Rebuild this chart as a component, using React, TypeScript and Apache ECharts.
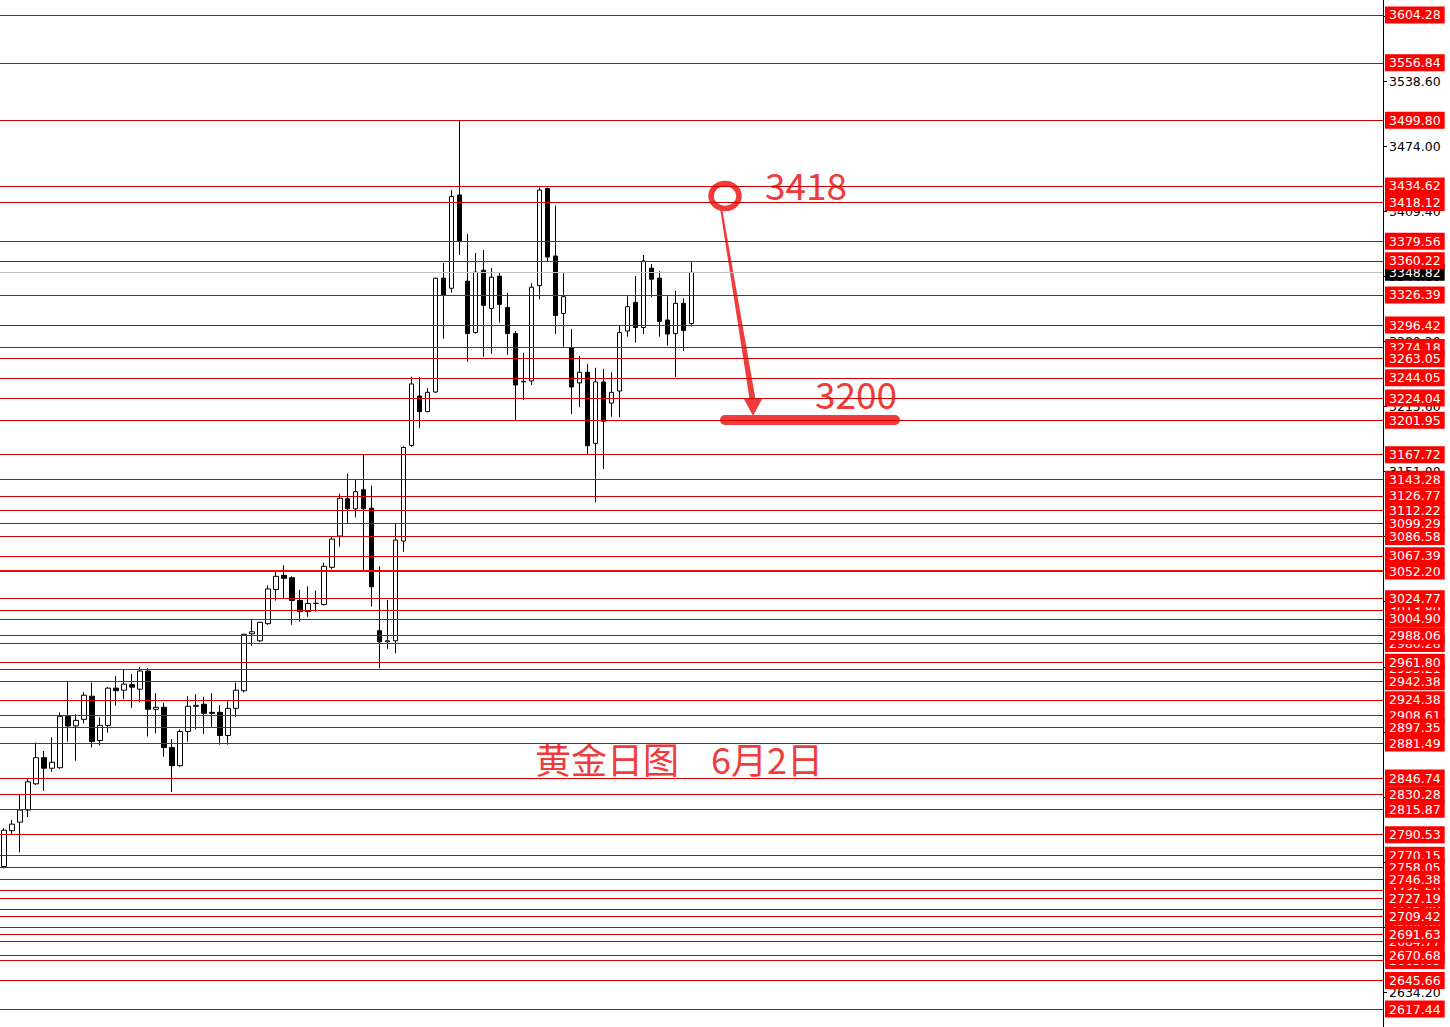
import React, { useEffect, useRef } from "react";
import * as echarts from "echarts";

// [open, close, low, high]
const candles: number[][] = [
  [2759, 2795, 2757, 2797],
  [2794.5, 2801, 2791, 2805],
  [2803, 2815, 2773, 2830],
  [2815, 2843, 2808, 2845.5],
  [2841, 2867, 2840, 2882],
  [2867, 2856.5, 2834, 2873.6],
  [2856.5, 2862.4, 2853, 2887],
  [2857, 2908, 2856, 2912],
  [2908, 2898.5, 2883, 2943],
  [2898.5, 2904, 2864, 2910],
  [2905, 2929, 2901, 2932],
  [2928, 2883, 2877, 2941.5],
  [2884, 2899, 2879, 2907],
  [2899, 2936, 2892, 2937],
  [2936, 2933.5, 2918.6, 2948],
  [2934, 2940, 2925, 2955],
  [2939.5, 2937, 2916.6, 2950],
  [2935, 2953, 2922, 2957],
  [2953, 2915, 2888, 2956],
  [2915, 2917, 2891, 2931],
  [2917, 2877, 2868, 2921.6],
  [2877, 2859, 2833, 2885.5],
  [2859, 2893, 2858, 2895],
  [2893, 2918, 2883, 2928],
  [2918, 2919, 2895, 2930],
  [2920, 2911, 2890.5, 2927.5],
  [2912, 2911, 2897, 2931],
  [2912, 2889, 2880, 2919],
  [2889, 2916, 2880, 2923],
  [2916, 2934, 2907, 2941.5],
  [2933.5, 2989.5, 2932, 2990],
  [2990, 2992, 2978, 3004.7],
  [2983, 3001.4, 2982, 3002],
  [3000, 3034.5, 2999, 3038],
  [3034, 3047, 3023, 3052],
  [3048, 3045, 3025, 3058],
  [3045.7, 3023, 2999, 3047],
  [3023, 3012, 3002, 3033.5],
  [3012, 3020, 3007, 3037],
  [3020, 3020.3, 3012, 3033],
  [3019, 3057, 3018, 3060.5],
  [3056, 3084, 3054, 3086],
  [3087, 3124.5, 3076.5, 3129],
  [3124, 3114, 3100, 3149],
  [3114, 3131, 3105.6, 3143],
  [3133, 3114, 3053, 3168],
  [3114.6, 3036.7, 3017, 3137],
  [2993, 2982, 2955.7, 3057],
  [2982, 2983, 2975, 3023.5],
  [2983, 3083, 2970.6, 3099],
  [3082, 3175, 3071.5, 3176],
  [3177, 3238, 3175.7, 3245],
  [3226, 3210.5, 3194, 3245],
  [3210.5, 3229.7, 3210, 3234],
  [3230, 3343, 3229, 3343.5],
  [3343, 3326, 3283, 3358],
  [3333, 3424, 3328.6, 3430.5],
  [3425.6, 3380, 3366, 3499.5],
  [3340, 3288, 3260, 3387],
  [3289, 3349, 3288, 3368],
  [3351, 3316, 3265, 3371],
  [3313, 3344, 3268, 3353],
  [3345, 3317, 3299, 3348.5],
  [3314, 3288, 3267, 3328.6],
  [3288, 3237, 3202, 3290.6],
  [3240, 3240.5, 3222, 3269],
  [3241, 3334, 3237, 3338],
  [3335.6, 3430.5, 3322, 3433],
  [3432, 3364, 3359, 3433],
  [3365, 3306, 3287.6, 3415],
  [3308, 3324.6, 3275, 3348],
  [3274, 3235, 3208, 3292.6],
  [3239, 3249.6, 3215, 3266],
  [3249.6, 3176.7, 3168.5, 3258],
  [3179, 3240, 3120.5, 3254],
  [3240, 3201, 3153.6, 3253],
  [3219, 3229.7, 3205.5, 3249.6],
  [3231, 3289, 3205, 3296],
  [3290.6, 3314.7, 3285, 3325],
  [3319, 3294, 3279, 3345],
  [3294, 3360, 3287.6, 3366],
  [3353, 3342, 3324, 3357],
  [3343, 3300, 3285, 3350],
  [3301.5, 3287.6, 3276, 3325],
  [3288, 3318, 3245, 3330.6],
  [3318, 3291, 3271, 3323],
  [3298, 3348.82, 3295, 3359],
];

const slotCount = 173;

const axisTickValues = [
  2634.2, 2698.8, 2763.4, 2828.0, 2892.6, 2957.2, 3021.8, 3086.4, 3151.0,
  3215.6, 3280.2, 3344.8, 3409.4, 3474.0, 3538.6, 3603.2,
];

// levels whose labels sit under their neighbours
const hiddenLevels = [3013.8, 2980.28, 2955.21, 2735.6, 2716.8, 2698.9, 2684.77, 2665.65];

const levels = [
  3604.28, 3556.84, 3499.8, 3434.62, 3418.12, 3379.56, 3360.22, 3326.39, 3296.42,
  3274.18, 3263.05, 3244.05, 3224.04, 3201.95, 3167.72, 3143.28, 3126.77, 3112.22,
  3099.29, 3086.58, 3067.39, 3052.2, 3024.77, 3004.9, 2988.06, 2961.8, 2942.38,
  2924.38, 2908.61, 2897.35, 2881.49, 2846.74, 2830.28, 2815.87, 2790.53, 2770.15,
  2758.05, 2746.38, 2727.19, 2709.42, 2691.63, 2670.68, 2645.66, 2617.44,
];

const thickLevel = 3052.2;
const lastPrice = 3348.82;

const axisMin = 2599.61;
const axisMax = 3619.17;

const RED = "#ef3b3b";

export default function App() {
  const ref = useRef<HTMLDivElement>(null);

  useEffect(() => {
    const chart = echarts.init(ref.current!, undefined, { renderer: "svg" });
    const categories = Array.from({ length: slotCount }, (_, i) => String(i));

    const mk = (v: number, color: string, width: number, bg: string) => ({
      yAxis: v,
      lineStyle: { color, width, type: "solid" },
      label: {
        show: true,
        position: "end",
        distance: 2,
        formatter: v.toFixed(2),
        color: "#fff",
        backgroundColor: bg,
        padding: [5, 4, 0, 4],
        fontSize: 12.5,
        lineHeight: 12,
        fontFamily: "DejaVu Sans",
      },
    });

    const markData = [
      mk(lastPrice, "#c0c0c0", 1, "#000"),
      ...hiddenLevels.map((v) => mk(v, "#d00000", 1, "#ff0000")),
      ...levels.map((v) =>
        v === thickLevel ? mk(v, "#ff0000", 2, "#ff0000") : mk(v, "#d00000", 1, "#ff0000")
      ),
    ];

    chart.setOption({
      animation: false,
      backgroundColor: "#fff",
      grid: { left: 0, right: 67, top: 0, bottom: 0 },
      xAxis: {
        type: "category",
        data: categories,
        show: false,
      },
      yAxis: {
        type: "value",
        position: "right",
        min: axisMin,
        max: axisMax,
        splitLine: { show: false },
        axisLine: { show: true, lineStyle: { color: "#000", width: 1 } },
        axisTick: {
          show: true,
          length: 4,
          lineStyle: { color: "#000" },
          customValues: axisTickValues,
        },
        axisLabel: {
          show: true,
          margin: 6,
          color: "#000",
          fontSize: 12.5,
          fontFamily: "DejaVu Sans",
          customValues: axisTickValues,
          formatter: (v: number) => v.toFixed(2),
        },
      },
      series: [
        {
          type: "candlestick",
          data: candles,
          barWidth: 5,
          itemStyle: {
            color: "#fff",
            color0: "#000",
            borderColor: "#000",
            borderColor0: "#000",
            borderWidth: 1,
          },
          markLine: {
            silent: true,
            symbol: ["none", "none"],
            animation: false,
            data: markData,
          },
        },
      ],
      graphic: [
        {
          type: "ellipse",
          shape: { cx: 725, cy: 196, rx: 14, ry: 12.5 },
          style: { fill: "none", stroke: RED, lineWidth: 5.5 },
        },
        {
          type: "polygon",
          shape: { points: [[719.5, 205], [721.5, 205], [756, 402], [750, 402]] },
          style: { fill: RED },
        },
        {
          type: "polygon",
          shape: { points: [[744, 399], [762, 399], [753, 416]] },
          style: { fill: RED },
        },
        {
          type: "rect",
          shape: { x: 720, y: 415, width: 180, height: 10, r: 5 },
          style: { fill: RED },
        },
        {
          type: "text",
          style: {
            text: "3418",
            x: 765,
            y: 184,
            fill: RED,
            fontSize: 37,
            fontFamily: "Noto Sans CJK SC",
            verticalAlign: "middle",
          },
        },
        {
          type: "text",
          style: {
            text: "3200",
            x: 815,
            y: 393,
            fill: RED,
            fontSize: 37,
            fontFamily: "Noto Sans CJK SC",
            verticalAlign: "middle",
          },
        },
        {
          type: "text",
          style: {
            text: "黄金日图",
            x: 535,
            y: 758,
            fill: RED,
            fontSize: 36,
            fontFamily: "Noto Sans CJK SC",
            verticalAlign: "middle",
          },
        },
        {
          type: "text",
          style: {
            text: "6月2日",
            x: 711,
            y: 758,
            fill: RED,
            fontSize: 36,
            fontFamily: "Noto Sans CJK SC",
            verticalAlign: "middle",
          },
        },
      ],
    });

    return () => chart.dispose();
  }, []);

  return (
    <div
      ref={ref}
      style={{ position: "fixed", left: 0, top: 0, width: 1450, height: 1027, background: "#fff" }}
    />
  );
}
